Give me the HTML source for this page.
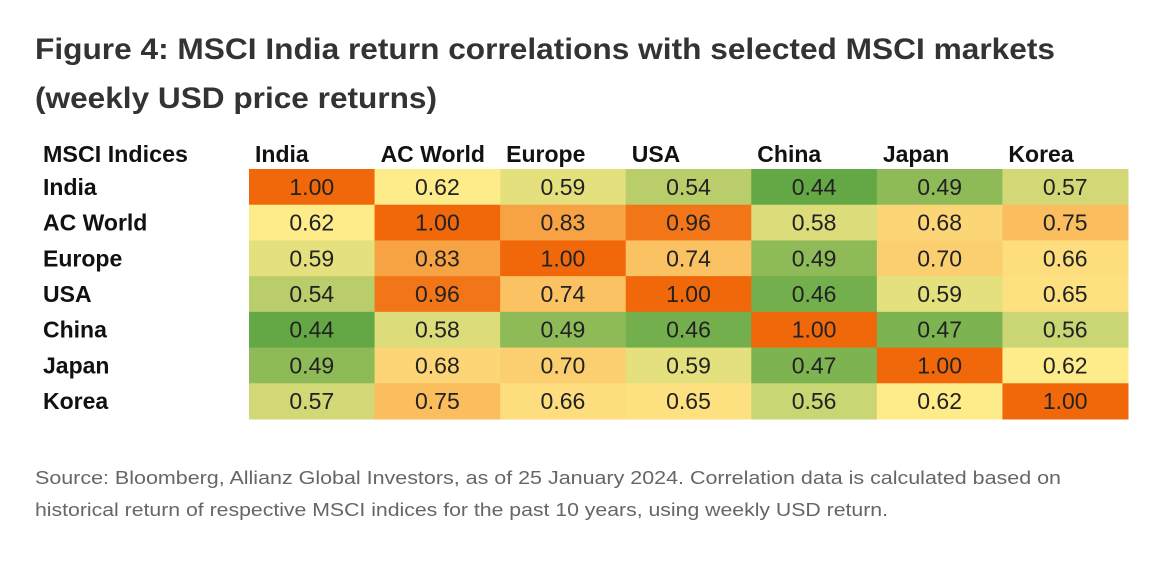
<!DOCTYPE html>
<html><head><meta charset="utf-8"><style>
body{margin:0;background:#fff;}
svg{display:block;font-family:"Liberation Sans",sans-serif;}
</style></head><body>
<svg id="chart" width="1165" height="571" viewBox="0 0 1165 571">
<text x="35" y="59" font-size="30" font-weight="bold" fill="#333" textLength="1020" lengthAdjust="spacingAndGlyphs">Figure 4: MSCI India return correlations with selected MSCI markets</text>
<text x="35" y="108" font-size="30" font-weight="bold" fill="#333" textLength="402" lengthAdjust="spacingAndGlyphs">(weekly USD price returns)</text>
<g id="grid"></g>
<text x="35" y="484" font-size="18" fill="#666" textLength="1026" lengthAdjust="spacingAndGlyphs">Source: Bloomberg, Allianz Global Investors, as of 25 January 2024. Correlation data is calculated based on</text>
<text x="35" y="516" font-size="18" fill="#666" textLength="853" lengthAdjust="spacingAndGlyphs">historical return of respective MSCI indices for the past 10 years, using weekly USD return.</text>
</svg>
<script>
const categories = ["India","AC World","Europe","USA","China","Japan","Korea"];
const rowIndia   = [1.00,0.62,0.59,0.54,0.44,0.49,0.57];
const rowACWorld = [0.62,1.00,0.83,0.96,0.58,0.68,0.75];
const rowEurope  = [0.59,0.83,1.00,0.74,0.49,0.70,0.66];
const rowUSA     = [0.54,0.96,0.74,1.00,0.46,0.59,0.65];
const rowChina   = [0.44,0.58,0.49,0.46,1.00,0.47,0.56];
const rowJapan   = [0.49,0.68,0.70,0.59,0.47,1.00,0.62];
const rowKorea   = [0.57,0.75,0.66,0.65,0.56,0.62,1.00];
const matrix = [rowIndia,rowACWorld,rowEurope,rowUSA,rowChina,rowJapan,rowKorea];

const NS="http://www.w3.org/2000/svg";
const g=document.getElementById('grid');
const x0=249, x1=1128, y0=169, y1=419;
const cw=(x1-x0)/categories.length, ch=(y1-y0)/categories.length;
const xPos=i=>x0+i*cw, yPos=i=>y0+i*ch;
function lerp(a,b,t){return a.map((v,k)=>Math.round(v+(b[k]-v)*t));}
function color(v){
  const green=[99,168,69], yellow=[254,235,138], orange=[241,104,10];
  const lo=0.44, mid=0.62, hi=1.0;
  let c;
  if(v<=mid) c=lerp(green,yellow,Math.max(0,(v-lo)/(mid-lo)));
  else c=lerp(yellow,orange,Math.min(1,(v-mid)/(hi-mid)));
  return `rgb(${c[0]},${c[1]},${c[2]})`;
}
function txt(x,y,s,opts){
  const t=document.createElementNS(NS,'text');
  t.setAttribute('x',x);t.setAttribute('y',y);
  for(const k in opts)t.setAttribute(k,opts[k]);
  t.textContent=s;g.appendChild(t);return t;
}
const h=txt(43,162,"MSCI Indices",{'font-size':23,'font-weight':'bold',fill:'#111',textLength:145,lengthAdjust:'spacingAndGlyphs'});


categories.forEach((c,i)=>{
  const t=txt(xPos(i)+6,162,c,{'font-size':23,'font-weight':'bold',fill:'#111'});
  
  
  const r=txt(43,yPos(i)+ch/2+8,c,{'font-size':23,'font-weight':'bold',fill:'#111'});
  
  
});
matrix.forEach((row,i)=>{
  row.forEach((v,j)=>{
    const rect=document.createElementNS(NS,'rect');
    rect.setAttribute('x',xPos(j));rect.setAttribute('y',yPos(i));
    rect.setAttribute('width',cw+0.5);rect.setAttribute('height',ch+0.5);
    rect.setAttribute('fill',color(v));
    
    
    g.appendChild(rect);
    const t=txt(xPos(j)+cw/2,yPos(i)+ch/2+8,v.toFixed(2),{'font-size':23,fill:'#222','text-anchor':'middle'});
    
    
  });
});
</script>
</body></html>
